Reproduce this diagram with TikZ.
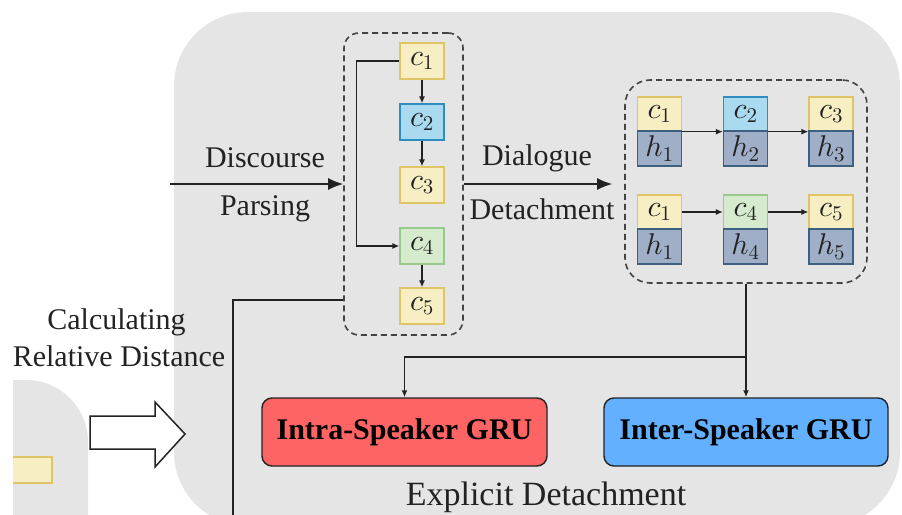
\documentclass[tikz,border=0pt]{standalone}
\usepackage[no-math]{fontspec}
\setmainfont{Liberation Serif}
\usetikzlibrary{arrows.meta,calc}
% freely scalable Computer Modern shapes for the large math labels
\DeclareFontShape{OML}{cmm}{m}{it}{<->cmmi10}{}
\DeclareFontShape{OT1}{cmr}{m}{n}{<->cmr10}{}
\DeclareFontShape{OMS}{cmsy}{m}{n}{<->cmsy10}{}

\definecolor{panel}{HTML}{E5E5E5}
\definecolor{ink}{HTML}{222222}
\definecolor{yfill}{HTML}{F7EFC3}
\definecolor{yline}{HTML}{E0C468}
\definecolor{bfill}{HTML}{A9DAF0}
\definecolor{bline}{HTML}{2E8CC0}
\definecolor{gfill}{HTML}{D6EBCD}
\definecolor{gline}{HTML}{97CA8C}
\definecolor{hfill}{HTML}{A0AFC8}
\definecolor{hline}{HTML}{3D5F80}
\definecolor{intrafill}{HTML}{FF6464}
\definecolor{interfill}{HTML}{62B0FF}

\tikzset{
  lbl/.style={font=\fontsize{30}{36}\selectfont, text=ink, inner sep=0},
  cellbase/.style={minimum width=44, inner sep=0, line width=1.3,
                   font=\fontsize{30}{36}\selectfont, text=ink},
  ycell/.style={cellbase, minimum height=36, fill=yfill, draw=yline},
  bcell/.style={cellbase, minimum height=36, fill=bfill, draw=bline},
  gcell/.style={cellbase, minimum height=36, fill=gfill, draw=gline},
  hcell/.style={cellbase, minimum height=35, fill=hfill, draw=hline},
  group/.style={draw=ink!85, dashed, dash pattern=on 6pt off 4pt, line width=1.6,
                inner sep=0},
  gru/.style={draw=ink, line width=1.4, rounded corners=10, minimum width=285,
              minimum height=68, inner sep=0,
              font=\fontsize{30}{36}\selectfont\bfseries, text=black},
  bigarr/.style={draw=ink, line width=1.6, -{Latex[length=15pt,width=12pt]}},
  smallarr/.style={draw=ink, line width=1.3, -{Latex[length=7pt,width=6pt]}},
  wire/.style={draw=ink, line width=1.6},
}

\begin{document}
\begin{tikzpicture}[x=1pt,y=-1pt]
\useasboundingbox (0,0) rectangle (902,514);

% background panels
\begin{scope}
  \clip (0,0) rectangle (902,514);
  \fill[panel, rounded corners=74] (174,12) rectangle (900,526);
\end{scope}
\begin{scope}
  \clip (13,0) rectangle (902,514);
  \fill[panel, rounded corners=62] (-100,380) rectangle (88,600);
  \filldraw[fill=yfill, draw=yline, line width=1.3] (-10,457) rectangle (52,483);
\end{scope}

% hollow block arrow
\draw[ink, line width=1.5, fill=white, line join=miter]
  (90,416) -- (155,416) -- (155,402) -- (185,434) -- (155,467) -- (155,449) -- (90,449) -- cycle;

\node[lbl] (calc1) at (116.5,322) {Calculating};
\node[lbl] (calc2) at (119,356) {Relative Distance};

% discourse graph column
\node[group, rounded corners=15, minimum width=119, minimum height=302] (grp1) at (403.5,184) {};
\node[ycell] (l1) at (422,61) {$c_1$};
\node[bcell] (l2) at (422,122) {$c_2$};
\node[ycell] (l3) at (422,185) {$c_3$};
\node[gcell] (l4) at (422,246) {$c_4$};
\node[ycell] (l5) at (422,306) {$c_5$};
\draw[smallarr] (l1) -- (l2);
\draw[smallarr] (l2) -- (l3);
\draw[smallarr] (l4) -- (l5);
\draw[smallarr] (l1.west) -- ++(-43,0) |- (l4.west);

% discourse parsing arrow
\coordinate (src) at (170,184);
\draw[bigarr] (src) -- (grp1.west);
\node[lbl] (dp1) at (265,158) {Discourse};
\node[lbl] (dp2) at (265,209) {Parsing};

% detached dialogue threads
\node[group, rounded corners=25, minimum width=242, minimum height=203] (grp2) at (746,181.5) {};
\node[ycell, minimum height=34] (a1) at (659.5,114) {$c_1$};
\node[bcell, minimum height=34] (a2) at (745.5,114) {$c_2$};
\node[ycell, minimum height=34] (a3) at (831,114) {$c_3$};
\node[hcell] (ha1) at (659.5,148.5) {$h_1$};
\node[hcell] (ha2) at (745.5,148.5) {$h_2$};
\node[hcell] (ha3) at (831,148.5) {$h_3$};
\node[ycell, minimum height=34] (b1) at (659.5,212) {$c_1$};
\node[gcell, minimum height=34] (b2) at (745.5,212) {$c_4$};
\node[ycell, minimum height=34] (b3) at (831,212) {$c_5$};
\node[hcell] (hb1) at (659.5,246.5) {$h_1$};
\node[hcell] (hb2) at (745.5,246.5) {$h_4$};
\node[hcell] (hb3) at (831,246.5) {$h_5$};
\draw[smallarr] (a1.south east) -- (a2.south west);
\draw[smallarr] (a2.south east) -- (a3.south west);
\draw[smallarr] (b1) -- (b2);
\draw[smallarr] (b2) -- (b3);

% dialogue detachment arrow
\draw[bigarr, shorten >=12pt] (grp1.east) -- (grp1.east -| grp2.west);
\node[lbl] (dd1) at (537,158) {Dialogue};
\node[lbl] (dd2) at (542,209) {Detachment};

% speaker GRUs
\node[gru, fill=intrafill] (intra) at (404.5,432) {Intra-Speaker GRU};
\node[gru, fill=interfill, minimum width=284] (inter) at (746,432) {Inter-Speaker GRU};
\draw[smallarr, line width=1.6] (grp2.south) -- (inter.north);
\draw[smallarr, line width=1.6] (grp2.south |- 0,357) -| (intra.north);

% relative distance feed
\coordinate (feed) at (233,520);
\draw[wire] (grp1.west |- 0,300) -| (feed);

\node[font=\fontsize{34}{40}\selectfont, text=ink, inner sep=0] (expl) at (546,497) {Explicit Detachment};
\end{tikzpicture}
\end{document}
